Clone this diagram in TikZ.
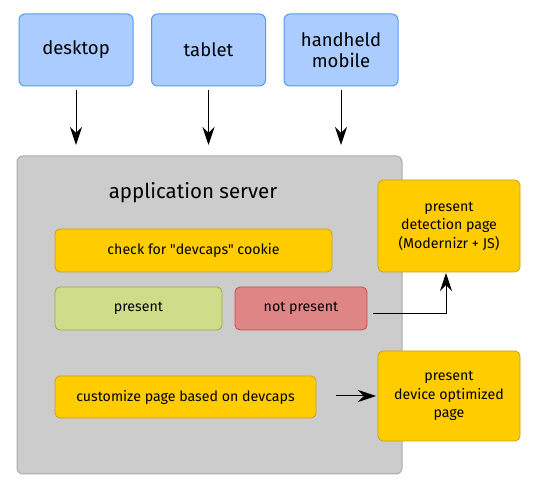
\documentclass[tikz,border=0pt]{standalone}
\usepackage{fontspec}
\setmainfont{Fira Sans}[Ligatures=TeXOff]
\usetikzlibrary{arrows.meta}
\definecolor{bluefill}{RGB}{170,204,255}
\definecolor{blueline}{RGB}{85,153,255}
\definecolor{grayfill}{RGB}{204,204,204}
\definecolor{grayline}{RGB}{170,170,170}
\definecolor{yelfill}{RGB}{255,204,0}
\definecolor{yelline}{RGB}{200,160,30}
\definecolor{grnfill}{RGB}{207,221,138}
\definecolor{grnline}{RGB}{155,170,70}
\definecolor{redfill}{RGB}{224,133,133}
\definecolor{redline}{RGB}{200,75,75}
\tikzset{
  devbox/.style={draw=blueline, fill=bluefill, rounded corners=6pt, line width=1pt,
    minimum width=114pt, minimum height=72pt, align=center,
    font=\fontsize{18.5}{21}\selectfont},
  ybox/.style={draw=yelline, fill=yelfill, rounded corners=5pt, line width=0.8pt,
    align=center, font=\fontsize{14.2}{18.5}\selectfont},
  gbox/.style={draw=grnline, fill=grnfill, rounded corners=5pt, line width=0.8pt,
    align=center, font=\fontsize{14.2}{18.5}\selectfont},
  rbox/.style={draw=redline, fill=redfill, rounded corners=5pt, line width=0.8pt,
    align=center, font=\fontsize{14.2}{18.5}\selectfont},
  arr/.style={line width=1pt, black, -{Stealth[length=18pt,width=12pt,inset=6pt]}}
}
\begin{document}
\begin{tikzpicture}[x=1pt,y=-1pt]
\useasboundingbox (0,0) rectangle (550,489);
% devices
\node[devbox] (desk) at (76,50) {desktop};
\node[devbox] (tab) at (208.5,50) {tablet};
\node[devbox] (hand) at (341,50) {handheld\\mobile};
% server
\node[draw=grayline, fill=grayfill, rounded corners=6pt, line width=1pt,
  minimum width=385pt, minimum height=318pt] (srv) at (209.5,315) {};
\node[font=\fontsize{20.5}{23}\selectfont] (srvlabel) at (193,193) {application server};
% arrow endpoints
\coordinate (e1) at (76,145);
\coordinate (e2) at (208.5,145);
\coordinate (e3) at (341,145);
\coordinate (s1) at (76,90);
\coordinate (s2) at (208.5,90);
\coordinate (s3) at (341,90);
\draw[arr] (s1) -- (e1);
\draw[arr] (s2) -- (e2);
\draw[arr] (s3) -- (e3);
% inner boxes
\node[ybox, minimum width=277pt, minimum height=43pt] (check) at (193.5,250.5) {check for "devcaps" cookie};
\node[gbox, minimum width=167pt, minimum height=43pt] (pres) at (138.5,308.5) {present};
\node[rbox, minimum width=132pt, minimum height=43pt] (npres) at (301,308.5) {not present};
\node[ybox, minimum width=261pt, minimum height=42pt] (cust) at (185.5,397) {customize page based on devcaps};
% right boxes
\node[ybox, minimum width=142pt, minimum height=92pt] (detect) at (449,226) {present\\detection page\\(Modernizr + JS)};
\node[ybox, minimum width=142pt, minimum height=90pt] (opt) at (449,396) {present\\device optimized\\page};
% connectors
\coordinate (np0) at (373,313.5);
\coordinate (np1) at (446,313.5);
\coordinate (np2) at (446,273);
\draw[arr] (np0) -- (np1) -- (np2);
\coordinate (c0) at (336,396);
\coordinate (c1) at (376,396);
\draw[arr] (c0) -- (c1);
\end{tikzpicture}
\end{document}
